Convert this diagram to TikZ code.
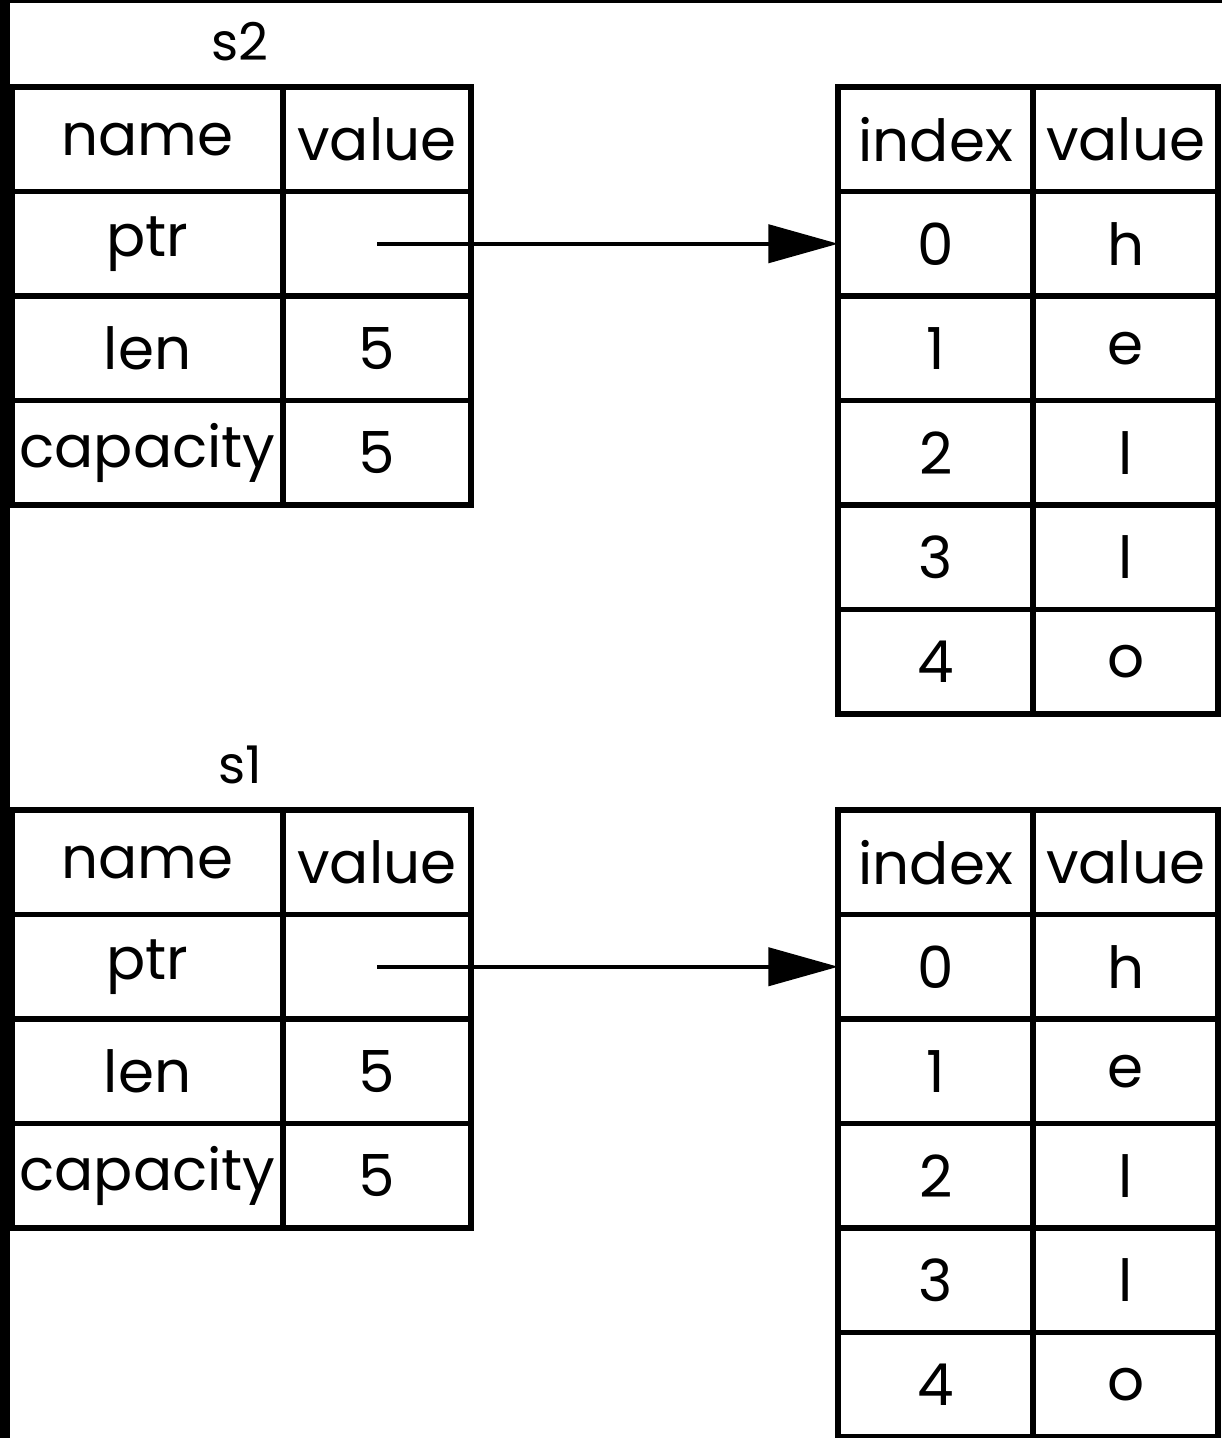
\documentclass[tikz,border=0pt]{standalone}
\usepackage{fontspec}
\setmainfont{Poppins}
\usetikzlibrary{arrows.meta,positioning}
\tikzstyle{cell}=[draw=black, line width=2.9pt, outer sep=0pt, inner sep=0pt, minimum height=52.25pt, font=\fontsize{29}{31}\selectfont]
\tikzstyle{namecol}=[cell, minimum width=135.5pt]
\tikzstyle{valcol}=[cell, minimum width=94pt]
\tikzstyle{idxcol}=[cell, minimum width=97.5pt]
\tikzstyle{chcol}=[cell, minimum width=92.5pt]
\tikzstyle{lab}=[font=\fontsize{26}{28}\selectfont]
\tikzstyle{ptr}=[line width=2.2pt, -{Triangle[length=35pt, width=19pt]}]

\begin{document}
\begin{tikzpicture}[x=0.5pt, y=-0.5pt]
      \useasboundingbox (0,0) rectangle (1222,1438);
      % dark scan edges
      \fill[black] (0,0) rectangle (10,1438);
      \fill[black] (0,0) rectangle (1222,3);
      %
      \foreach \v/\dy in {2/0, 1/723} {
        \node[lab] at (240,42+\dy) (s\v) {s\v};
        % stack record
        \foreach \k/\a/\b [count=\r] in {h/name/value, p/ptr/, l/len/5, c/capacity/5} {
          \node[namecol] at (147.5,87+104.5*\r-52.25+\dy) (s\v\k n) {\a};
          \node[valcol, right=0pt of s\v\k n] (s\v\k v) {\b};
        }
        % heap array
        \node[idxcol] at (935.75,139.25+\dy) (a\v hi) {index};
        \node[chcol, right=0pt of a\v hi] (a\v hc) {value};
        \foreach \c [count=\r] in {h,e,l,l,o} {
          \pgfmathtruncatemacro{\i}{\r-1}
          \node[idxcol] at (935.75,139.25+104.5*\r+\dy) (a\v r\i) {\i};
          \node[chcol, right=0pt of a\v r\i] (a\v c\i) {\c};
        }
        \draw[ptr] (s\v pv.center) -- (a\v r0.west);
      }
    \end{tikzpicture}
\end{document}
